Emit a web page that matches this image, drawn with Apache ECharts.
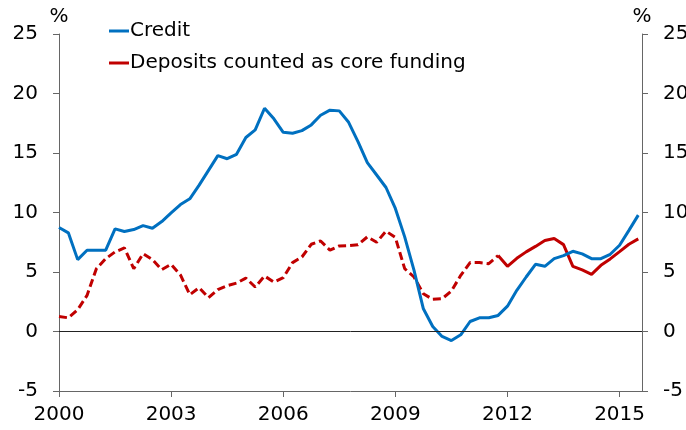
<!DOCTYPE html>
<html>
<head>
<meta charset="utf-8">
<script src="https://cdn.jsdelivr.net/npm/echarts@6/dist/echarts.min.js"></script>
<style>
html,body{margin:0;padding:0;background:#fff;}
#c{width:686px;height:430px;}
</style>
</head>
<body>
<div id="c"></div>
<script>
// Quarterly data, 2000Q1 .. 2015Q3
var startYear = 2000;
var credit = [8.74,8.29,6.04,6.83,6.83,6.83,8.62,8.40,8.57,8.90,8.68,9.24,9.97,10.67,11.15,12.30,13.54,14.78,14.52,14.89,16.30,16.94,18.76,17.87,16.74,16.66,16.88,17.36,18.17,18.60,18.54,17.58,15.96,14.19,13.15,12.10,10.34,7.95,5.14,1.91,0.42,-0.42,-0.76,-0.28,0.84,1.15,1.15,1.35,2.13,3.46,4.58,5.65,5.48,6.12,6.38,6.74,6.52,6.12,6.12,6.49,7.25,8.50,9.78];
var deposits = [1.26,1.15,1.83,3.03,5.28,6.12,6.69,7.02,5.28,6.54,6.04,5.20,5.65,4.75,3.09,3.68,2.84,3.51,3.85,4.07,4.49,3.74,4.66,4.16,4.52,5.79,6.26,7.33,7.61,6.83,7.19,7.22,7.28,7.95,7.50,8.43,7.90,5.28,4.58,3.17,2.70,2.75,3.40,4.72,5.79,5.79,5.70,6.38,5.48,6.15,6.69,7.15,7.64,7.81,7.30,5.48,5.17,4.80,5.56,6.10,6.71,7.33,7.78];
var dashedUntil = 47; // deposits drawn dashed up to this quarter index
var xTicks = [2000,2003,2006,2009,2012,2015];
var names = ['Credit','Deposits counted as core funding'];

function t(i){ return startYear + i/4; }
var creditData = credit.map(function(v,i){ return [t(i), v]; });
var depDashed = deposits.slice(0, dashedUntil+1).map(function(v,i){ return [t(i), v]; });
var depSolid = deposits.slice(dashedUntil).map(function(v,i){ return [t(i+dashedUntil), v]; });

var FONT = 'DejaVu Sans';
var BLUE = '#0070C0', RED = '#C00000', AX = '#666666';

var yAxisBase = {
  type:'value', min:-5, max:25, interval:5,
  axisLine:{show:true, lineStyle:{color:AX, width:1}},
  axisTick:{show:true, length:6, lineStyle:{color:AX}},
  splitLine:{show:false},
  axisLabel:{fontFamily:FONT, fontSize:20, color:'#000', margin:21},
  name:'%', nameLocation:'end', nameGap:7,
  nameTextStyle:{fontFamily:FONT, fontSize:20, color:'#000'}
};

var chart = echarts.init(document.getElementById('c'), null, {renderer:'canvas'});
chart.setOption({
  animation:false,
  backgroundColor:'#fff',
  grid:{left:59, right:44, top:34, bottom:39, containLabel:false, outerBoundsMode:'none'},
  legend:{
    orient:'vertical', left:104, top:16, itemWidth:20, itemHeight:3, itemGap:12,
    icon:'rect', data:names,
    textStyle:{fontFamily:FONT, fontSize:20, color:'#000', lineHeight:20, padding:[0,0,0,-4]}
  },
  xAxis:{
    type:'value', min:2000, max:2015.6, interval:3,
    axisLine:{show:true, onZero:false, lineStyle:{color:AX, width:1}},
    axisTick:{show:true, length:6, lineStyle:{color:AX}, customValues:xTicks},
    splitLine:{show:false},
    axisLabel:{fontFamily:FONT, fontSize:20, color:'#000', margin:14, customValues:xTicks,
      formatter:function(v){ return String(Math.round(v)); }}
  },
  yAxis:[
    Object.assign({}, yAxisBase, {position:'left'}),
    Object.assign({}, yAxisBase, {position:'right'})
  ],
  series:[
    {
      name:names[0], type:'line', data:creditData, showSymbol:false, symbol:'none',
      lineStyle:{color:BLUE, width:3}, itemStyle:{color:BLUE}, z:3,
      markLine:{silent:true, symbol:'none', label:{show:false},
        lineStyle:{color:'#222', width:1, type:'solid'},
        data:[{yAxis:0}]}
    },
    {
      name:names[1], type:'line', data:depDashed, showSymbol:false, symbol:'none',
      lineStyle:{color:RED, width:3, type:[8,4]}, itemStyle:{color:RED}, z:2
    },
    {
      name:names[1], type:'line', data:depSolid, showSymbol:false, symbol:'none',
      lineStyle:{color:RED, width:3}, itemStyle:{color:RED}, z:2
    }
  ]
});
</script>
</body>
</html>
